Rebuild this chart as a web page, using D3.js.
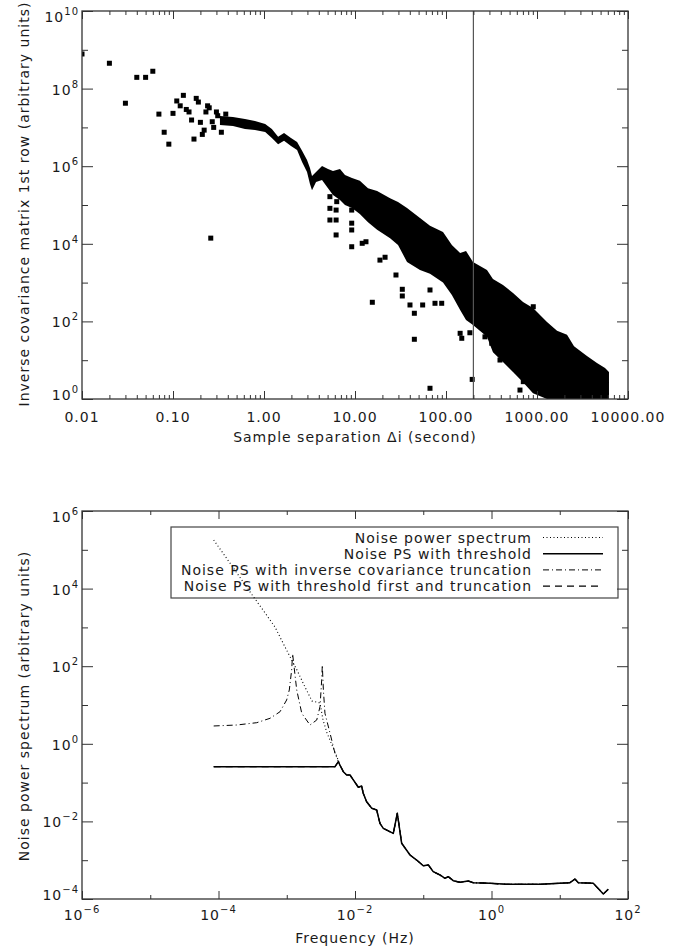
<!DOCTYPE html>
<html>
<head>
<meta charset="utf-8">
<script src="https://d3js.org/d3.v7.min.js"></script>
<style>
body { margin: 0; background: #fff; }
svg text { font-family: "DejaVu Sans", sans-serif; fill: #1a1a1a; letter-spacing: 1px; }
</style>
</head>
<body>
<div id="chart"></div>
<script>

// ---------- top panel data: inverse covariance matrix, first row ----------
// isolated points (sample separation in s, value)
var scatterSec = [0.01,0.02,0.03,0.04,0.05,0.06,0.07,0.08,0.09,0.10,
  0.11,0.12,0.13,0.14,0.15,0.16,0.17,0.18,0.19,0.20,
  0.21,0.22,0.23,0.24,0.25,0.26,0.27,0.28,0.30,0.31,0.34,0.38,
  5.3,6.3,5.3,6.2,5.3,6.2,6.2,9.2,9.2,9.2,9.2,12.0,13.2,15.5,18.8,21.4,28.2,
  33.1,33.1,40.2,44.9,44.9,55.4,66.7,75.7,89.7,143,149,66.7,194,183,268,318,
  392,464,598,707,650,802,910,1033,1172];
var scatterVal = [7.8e8,4.5e8,4.2e7,1.95e8,1.95e8,2.8e8,2.2e7,7.5e6,3.7e6,2.3e7,
  4.8e7,3.6e7,6.7e7,2.9e7,2.5e7,1.55e7,5e6,5.6e7,4.5e7,1.35e7,
  6.6e6,8.5e6,2.5e7,3.6e7,3.2e7,1.4e4,1.4e7,1e7,2.5e7,2e7,7.5e6,2.2e7,
  1.64e5,1.22e5,8.2e4,7.4e4,4.1e4,4.1e4,1.69e4,7.4e4,3.4e4,2.27e4,8.4e3,1.03e4,1.13e4,311,3.8e3,4.5e3,1.57e3,
  452,672,265,162,34.6,265,645,293,293,49.3,36.7,1.89,3.2,51,40,27.3,
  10.1,12.3,12.3,2.8,1.7,3.1,239,4.2,1.4];

// the dense run of points, read as upper / lower edge of the black band
var bandSec = [0.328,0.456,0.618,0.796,1.03,1.22,1.43,1.66,1.98,2.31,2.62,2.97,3.20,3.37,3.73,4.34,
  5.05,5.73,6.84,7.76,9.27,11.3,13.9,17.5,24.3,29.7,37.3,51.8,66.7,92.7,116,143,166,198,282,
  328,423,545,702,904,1288,1660,2138,2552,3540,4560,5590,6180];
var bandHi = [1.97e7,1.85e7,1.65e7,1.46e7,1.22e7,9.1e6,5.7e6,7.2e6,5.3e6,4.2e6,2.5e6,1.45e6,9.0e5,5.6e5,7.1e5,
  1.01e6,8.5e5,7.5e5,8.5e5,5.9e5,5.0e5,4.2e5,2.7e5,2.3e5,1.5e5,1.2e5,8.4e4,4.6e4,2.9e4,2.0e4,
  9.3e3,5.8e3,6.5e3,3.4e3,2.1e3,1.24e3,870,540,316,221,97,57,45,23,12.8,8.5,6.3,5.0];
var bandLo = [1.15e7,1.09e7,9.1e6,8.6e6,7.6e6,5.3e6,3.7e6,4.5e6,3.3e6,2.6e6,1.28e6,7.1e5,3.5e5,2.4e5,3.9e5,
  4.4e5,2.7e5,1.8e5,1.35e5,1.0e5,8.4e4,5.9e4,3.6e4,2.3e4,1.4e4,9.3e3,3.4e3,2.1e3,1.7e3,1.0e3,
  480,197,109,81,40,16,9,5,2.7,1.4,1,1,1,1,1,1,1,1];
var cutSec = 200;   // vertical marker

var sepTicks = [0.01,0.1,1,10,100,1000,10000];
var sepTickLabels = ["0.01","0.10","1.00","10.00","100.00","1000.00","10000.00"];
var covExp = [0,2,4,6,8,10];

// ---------- bottom panel data: noise power spectra ----------
var tailHz = [5.1e-3,5.7e-3,6.0e-3,6.75e-3,7.55e-3,8.45e-3,9.45e-3,1.12e-2,1.25e-2,1.32e-2,
  1.48e-2,1.76e-2,2.08e-2,2.32e-2,2.6e-2,3.64e-2,4.17e-2,4.83e-2,6.4e-2,8.0e-2,
  0.10,0.119,0.14,0.176,0.208,0.233,0.275,0.345,0.457,0.541,0.95,1.67,5.14,14.1,16.7,18.7,31.0,43.5,51.4];
var tailPS = [0.257,0.346,0.284,0.191,0.157,0.157,0.117,0.0757,0.0817,0.053,
  0.0322,0.0218,0.0197,8.9e-3,6.6e-3,4.9e-3,0.0162,2.73e-3,1.36e-3,1.01e-3,
  7.2e-4,7.5e-4,5.06e-4,4.16e-4,3.42e-4,3.76e-4,2.97e-4,2.69e-4,2.91e-4,2.63e-4,2.54e-4,2.39e-4,2.39e-4,2.63e-4,3.27e-4,2.63e-4,2.54e-4,1.35e-4,1.78e-4];
var psHeadHz = [8.5e-5,1.47e-4,3.2e-4,4.49e-4,6.73e-4,8.81e-4,1.12e-3,1.41e-3,1.85e-3,2.34e-3,3.07e-3,3.4e-3,3.89e-3,4.6e-3,5.45e-3];
var psHeadVal = [1.79e5,4.57e4,6.4e3,2.8e3,1.02e3,396,173,80,29,12.7,11.3,4.1,1.9,0.93,0.457];
var truncHeadHz = [8.5e-5,1.85e-4,3.63e-4,5.69e-4,7.96e-4,9.97e-4,1.09e-3,1.18e-3,1.22e-3,1.28e-3,1.40e-3,
  1.66e-3,2.19e-3,2.75e-3,3.07e-3,3.25e-3,3.32e-3,3.44e-3,3.63e-3,4.31e-3,5.09e-3];
var truncHeadVal = [2.88,3.05,3.5,4.54,6.7,13.5,24.4,80,206,97,24.4,6.1,3.05,4.1,9.0,44,107,24.4,6.1,1.87,0.569];
var threshStartHz = 8.5e-5, threshLevel = 0.257;

var freqLabelExp = [-6,-4,-2,0,2];
var psExp = [-4,-2,0,2,4,6];
var legendLabels = ["Noise power spectrum","Noise PS with threshold",
  "Noise PS with inverse covariance truncation","Noise PS with threshold first and truncation"];

var svg = d3.select("#chart").append("svg")
    .attr("width", 683)
    .attr("height", 949);

// helper: ticks on all four sides, pointing inwards
function frame(x, y, xMaj, xMin, xMajLen, xMinLen, yMaj, yMin) {
  var r = x.range(), t = y.range();
  var left = r[0], right = r[1], bottom = t[0], top = t[1];
  function strip(g) { g.select(".domain").remove(); g.attr("color", "#333"); g.selectAll("line").attr("stroke-width", 1); }
  [[d3.axisTop, bottom], [d3.axisBottom, top]].forEach(function(a) {
    svg.append("g").attr("transform", "translate(0," + a[1] + ")")
      .call(a[0](x).tickValues(xMaj).tickSize(xMajLen).tickFormat("")).call(strip);
    svg.append("g").attr("transform", "translate(0," + a[1] + ")")
      .call(a[0](x).tickValues(xMin).tickSize(xMinLen).tickFormat("")).call(strip);
  });
  [[d3.axisRight, left], [d3.axisLeft, right]].forEach(function(a) {
    svg.append("g").attr("transform", "translate(" + a[1] + ",0)")
      .call(a[0](y).tickValues(yMaj).tickSize(11).tickFormat("")).call(strip);
    svg.append("g").attr("transform", "translate(" + a[1] + ",0)")
      .call(a[0](y).tickValues(yMin).tickSize(6).tickFormat("")).call(strip);
  });
  svg.append("rect")
    .attr("x", left).attr("y", top)
    .attr("width", right - left).attr("height", bottom - top)
    .attr("fill", "none").attr("stroke", "#333").attr("stroke-width", 1.3);
}

// power-of-ten label with superscript
function powLabel(g, px, py, exp, anchor) {
  var t = g.append("text").attr("x", px).attr("y", py)
    .attr("text-anchor", anchor).style("font-size", "14px");
  t.append("tspan").text("10");
  t.append("tspan").attr("dy", -7).style("font-size", "10px")
    .text(exp < 0 ? "\u2212" + (-exp) : exp);
}

// ================= TOP PANEL =================
var xTop = d3.scaleLog().domain([0.01, 10000]).range([82, 628]);
var yTop = d3.scaleLog().domain([1, 1e10]).range([399, 11]);

svg.append("clipPath").attr("id", "clipTop").append("rect")
  .attr("x", 82).attr("y", 11).attr("width", 546).attr("height", 388);

var sepMinor = [];
sepTicks.slice(0, -1).forEach(function(d) { for (var m = 2; m < 10; m++) sepMinor.push(d * m); });
var covMaj = covExp.map(function(e) { return Math.pow(10, e); });
var covMin = [1, 3, 5, 7, 9].map(function(e) { return Math.pow(10, e); });

var topPlot = svg.append("g").attr("clip-path", "url(#clipTop)");

topPlot.append("path")
  .datum(bandSec.map(function(d, i) { return [d, bandHi[i], bandLo[i]]; }))
  .attr("fill", "#000")
  .attr("d", d3.area()
    .x(function(d) { return xTop(d[0]); })
    .y0(function(d) { return yTop(d[2]); })
    .y1(function(d) { return yTop(d[1]); }));

topPlot.selectAll("rect.pt")
  .data(scatterSec.map(function(d, i) { return [d, scatterVal[i]]; }))
  .enter().append("rect")
    .attr("class", "pt")
    .attr("x", function(d) { return xTop(d[0]) - 2.5; })
    .attr("y", function(d) { return yTop(d[1]) - 2.5; })
    .attr("width", 5).attr("height", 5)
    .attr("fill", "#000");

svg.append("line")
  .attr("x1", xTop(cutSec)).attr("x2", xTop(cutSec))
  .attr("y1", 11).attr("y2", 399)
  .attr("stroke", "#555").attr("stroke-width", 1.2);

frame(xTop, yTop, sepTicks, sepMinor, 8, 4, covMaj, covMin);

var topLab = svg.append("g");
sepTicks.forEach(function(d, i) {
  topLab.append("text").attr("x", xTop(d)).attr("y", 422)
    .attr("text-anchor", "middle").style("font-size", "14px")
    .text(sepTickLabels[i]);
});
covExp.forEach(function(e) {
  var cy = Math.min(Math.max(yTop(Math.pow(10, e)), 16), 394);
  powLabel(topLab, 79, cy + 6, e, "end");
});
topLab.append("text").attr("x", 355).attr("y", 442)
  .attr("text-anchor", "middle").style("font-size", "14px")
  .text("Sample separation \u0394i (second)");
topLab.append("text")
  .attr("transform", "translate(29,204) rotate(-90)")
  .attr("text-anchor", "middle").style("font-size", "14px")
  .text("Inverse covariance matrix 1st row (arbitrary units)");

// ================= BOTTOM PANEL =================
var xBot = d3.scaleLog().domain([1e-6, 1e2]).range([82, 628]);
var yBot = d3.scaleLog().domain([1e-4, 1e6]).range([899, 511]);

var fMaj = freqLabelExp.map(function(e) { return Math.pow(10, e); });
var fMin = [-5, -3, -1, 1].map(function(e) { return Math.pow(10, e); });
var psMaj = psExp.map(function(e) { return Math.pow(10, e); });
var psMin = [-3, -1, 1, 3, 5].map(function(e) { return Math.pow(10, e); });

function pairs(xs, ys) { return xs.map(function(d, i) { return [d, ys[i]]; }); }
var tail = pairs(tailHz, tailPS);
var threshCurve = [[threshStartHz, threshLevel]].concat(tail);
var psCurve = pairs(psHeadHz, psHeadVal).concat(tail.slice(2));
var truncCurve = pairs(truncHeadHz, truncHeadVal).concat(tail.slice(2));

var line = d3.line()
  .x(function(d) { return xBot(d[0]); })
  .y(function(d) { return yBot(d[1]); });

var styles = [
  {dash: "1,2.5", w: 1.1},
  {dash: null, w: 1.5},
  {dash: "6,3,1,3", w: 1},
  {dash: "7,5", w: 1.2}
];
var curves = [psCurve, threshCurve, truncCurve, threshCurve];

// legend frame first, curves cross it (box is not filled)
var leg = svg.append("g");
leg.append("rect")
  .attr("x", 171).attr("y", 527).attr("width", 447).attr("height", 71)
  .attr("fill", "none").attr("stroke", "#444").attr("stroke-width", 1.2);

var botPlot = svg.append("g");
[0, 2, 3, 1].forEach(function(k) {
  botPlot.append("path")
    .datum(curves[k])
    .attr("fill", "none")
    .attr("stroke", "#000")
    .attr("stroke-width", styles[k].w)
    .attr("stroke-dasharray", styles[k].dash)
    .attr("stroke-linejoin", "round")
    .attr("d", line);
});

frame(xBot, yBot, fMaj, fMin, 8, 4, psMaj, psMin);

var botLab = svg.append("g");
freqLabelExp.forEach(function(e) {
  powLabel(botLab, xBot(Math.pow(10, e)), 920, e, "middle");
});
psExp.forEach(function(e) {
  var cy = Math.min(Math.max(yBot(Math.pow(10, e)), 516), 894);
  powLabel(botLab, 79, cy + 6, e, "end");
});
botLab.append("text").attr("x", 355).attr("y", 943)
  .attr("text-anchor", "middle").style("font-size", "14px")
  .text("Frequency (Hz)");
botLab.append("text")
  .attr("transform", "translate(29,706) rotate(-90)")
  .attr("text-anchor", "middle").style("font-size", "14px")
  .text("Noise power spectrum (arbitrary units)");

legendLabels.forEach(function(lab, i) {
  var cy = 537.5 + i * 16.2;
  leg.append("text").attr("x", 532).attr("y", cy + 5)
    .attr("text-anchor", "end").style("font-size", "14px")
    .text(lab);
  leg.append("line")
    .attr("x1", 543).attr("x2", 603).attr("y1", cy).attr("y2", cy)
    .attr("stroke", "#000")
    .attr("stroke-width", styles[i].w)
    .attr("stroke-dasharray", styles[i].dash);
});

</script>
</body>
</html>
